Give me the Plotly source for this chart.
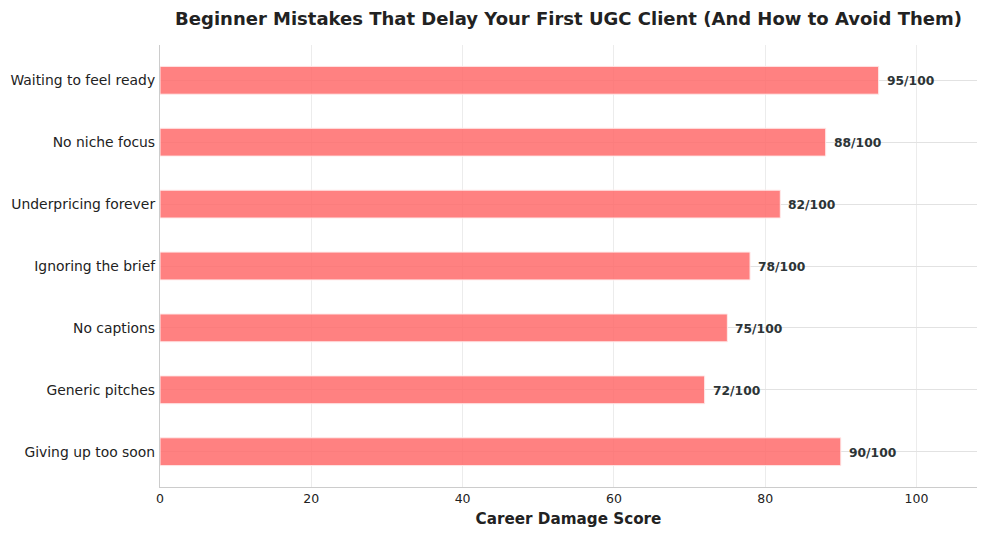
import plotly.graph_objects as go

# bottom to top, as drawn
mistakes = ['Giving up too soon', 'Generic pitches', 'No captions', 'Ignoring the brief',
            'Underpricing forever', 'No niche focus', 'Waiting to feel ready']
scores = [90, 72, 75, 78, 82, 88, 95]
score_labels = [f'{s}/100' for s in scores]

FONT = 'DejaVu Sans'

fig = go.Figure()
fig.add_trace(go.Bar(
    x=scores, y=mistakes, orientation='h', width=0.45,
    marker=dict(color='rgba(255,107,107,0.85)',
                line=dict(color='rgba(255,235,235,1)', width=1)),
    hoverinfo='x+y'))

for name, s, lab in zip(mistakes, scores, score_labels):
    fig.add_annotation(x=s + 0.8, y=name, text=f'<b>{lab}</b>', showarrow=False,
                       xanchor='left', yanchor='middle', yshift=-1,
                       font=dict(family=FONT, size=12.3, color='#2d3436'))

# page body adds ~8px offset, so the figure is a little smaller than the window
fig.update_layout(
    width=979, height=528,
    margin=dict(l=152, r=10, t=37, b=49),
    plot_bgcolor='white', paper_bgcolor='white',
    showlegend=False,
    font=dict(family=FONT, size=12.5, color='#222222'),
    title=dict(text='<b>Beginner Mistakes That Delay Your First UGC Client (And How to Avoid Them)</b>',
               x=0.5, xref='paper', xanchor='center', y=0.98, yanchor='middle',
               font=dict(family=FONT, size=18, color='#222222')),
    xaxis=dict(range=[0, 108], tickvals=[0, 20, 40, 60, 80, 100],
               showgrid=True, gridcolor='#ececec', gridwidth=1,
               zeroline=False, showline=True, linecolor='#cccccc', linewidth=1.2,
               ticks='', ticklen=0, automargin=False,
               title=dict(text='<b>Career Damage Score</b>', standoff=8,
                          font=dict(family=FONT, size=15.2, color='#222222'))),
    yaxis=dict(type='category', categoryorder='array', categoryarray=mistakes,
               range=[-0.57, 6.57], showgrid=True, gridcolor='#e2e2e2', gridwidth=1,
               zeroline=False, showline=True, linecolor='#cccccc', linewidth=1.2,
               ticks='', ticklabelstandoff=1, automargin=False,
               tickfont=dict(size=13.9)),
)

fig.write_html('out.html')
